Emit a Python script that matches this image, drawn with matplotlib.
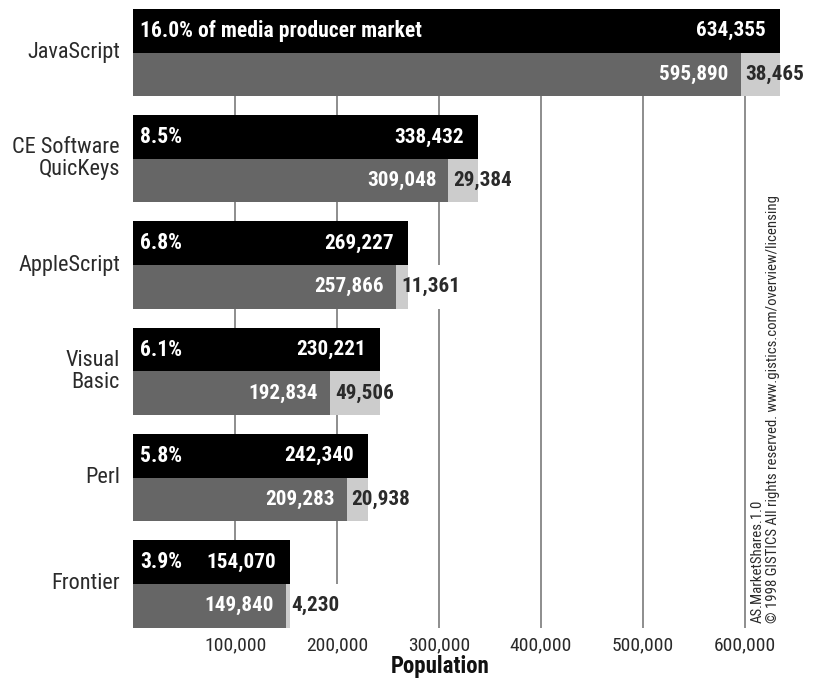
import glob, os
import matplotlib
matplotlib.use("Agg")
import matplotlib.pyplot as plt
from matplotlib import font_manager
from matplotlib.font_manager import FontProperties

# ---- data ----
categories = ["JavaScript", "CE Software\nQuicKeys", "AppleScript", "Visual\nBasic", "Perl", "Frontier"]
share_labels = ["16.0% of media producer market", "8.5%", "6.8%", "6.1%", "5.8%", "3.9%"]
total_labels = [634355, 338432, 269227, 230221, 242340, 154070]
primary = [595890, 309048, 257866, 192834, 209283, 149840]
secondary = [38465, 29384, 11361, 49506, 20938, 4230]
xticks = [100000, 200000, 300000, 400000, 500000, 600000]
xlabel = "Population"
credit = "AS.MarketShares.1.0\n\u00a9 1998 GISTICS All rights reserved. www.gistics.com/overview/licensing"

# ---- fonts: look for a narrow / condensed face ----
all_files = glob.glob("/usr/share/fonts/**/*.tt[fc]", recursive=True) + \
    glob.glob("/usr/local/share/fonts/**/*.tt[fc]", recursive=True) + \
    [f.fname for f in font_manager.fontManager.ttflist]
all_files = list(dict.fromkeys(all_files))


def find(patterns):
    for pat in patterns:
        for f in all_files:
            if os.path.basename(f).lower() == pat.lower():
                return f
    return None


reg_file = find(["LiberationSansNarrow-Regular.ttf", "RobotoCondensed-Regular.ttf",
                 "DejaVuSansCondensed.ttf", "OpenSans_Condensed-Regular.ttf"])
bold_file = find(["LiberationSansNarrow-Bold.ttf", "RobotoCondensed-Bold.ttf",
                  "DejaVuSansCondensed-Bold.ttf", "OpenSans_Condensed-Bold.ttf"])
if reg_file is None:
    for f in all_files:
        b = os.path.basename(f).lower()
        if ("narrow" in b or "condensed" in b) and "bold" not in b and "italic" not in b:
            reg_file = f
            break
if bold_file is None:
    for f in all_files:
        b = os.path.basename(f).lower()
        if ("narrow" in b or "condensed" in b) and "bold" in b and "italic" not in b:
            bold_file = f
            break


def fp(size, bold=False):
    f = bold_file if bold else reg_file
    if f:
        return FontProperties(fname=f, size=size)
    return FontProperties(family="DejaVu Sans", size=size, weight="bold" if bold else "normal",
                          stretch="condensed")


BLACK = "#000000"
DARK = "#666666"
LIGHT = "#cccccc"
GRID = "#7a7a7a"
TXT = "#2a2a2a"

W, H, DPI = 815, 679, 100
fig = plt.figure(figsize=(W / DPI, H / DPI), dpi=DPI)
x0_px, ppx = 133.4, 101.9  # px of zero, px per 100k
bot_px = 627.5
ax = fig.add_axes([x0_px / W, (H - bot_px) / H, (W - x0_px) / W, bot_px / H])
ax.set_xlim(0, (W - x0_px) / ppx * 100000)
bh = 0.41
ax.set_ylim(len(categories) - 1 + bh, -0.494)
for s in ax.spines.values():
    s.set_visible(False)
ax.set_yticks([])
ax.set_xticks(xticks)
ax.set_xticklabels([f"{v:,}" for v in xticks], color=TXT)
for lab in ax.get_xticklabels():
    lab.set_fontproperties(fp(14))
ax.tick_params(axis="x", length=0, pad=6.5)

# grid lines
ax.vlines(xticks, -bh, len(categories) - 1 + bh, color=GRID, lw=1.2, zorder=1)

yb = [i - bh / 2 for i in range(len(categories))]
yg = [i + bh / 2 for i in range(len(categories))]
full = [p + s for p, s in zip(primary, secondary)]

ax.barh(yb, full, height=bh, color=BLACK, zorder=3)
ax.barh(yg, primary, height=bh, color=DARK, zorder=3)
ax.barh(yg, secondary, left=primary, height=bh, color=LIGHT, zorder=3)

px2pt = 72 / DPI
VS = 15.2
light_texts = []
for i, cat in enumerate(categories):
    ax.annotate(share_labels[i], xy=(0, yb[i]), xytext=(7 * px2pt, 0), textcoords="offset points",
                ha="left", va="center", color="white", fontproperties=fp(15.6, True), zorder=5)
    ax.annotate(f"{total_labels[i]:,}", xy=(full[i], yb[i]), xytext=(-14 * px2pt, 0), textcoords="offset points",
                ha="right", va="center", color="white", fontproperties=fp(VS, True), zorder=5)
    ax.annotate(f"{primary[i]:,}", xy=(primary[i], yg[i]), xytext=(-12 * px2pt, 0), textcoords="offset points",
                ha="right", va="center", color="white", fontproperties=fp(VS, True), zorder=5)
    t = ax.annotate(f"{secondary[i]:,}", xy=(primary[i], yg[i]), xytext=(5 * px2pt, 0), textcoords="offset points",
                    ha="left", va="center", color=TXT, fontproperties=fp(VS, True), zorder=5)
    light_texts.append(t)
    ax.annotate(cat, xy=(0, i), xytext=(-13.4 * px2pt, 0), textcoords="offset points",
                ha="right", va="center", color=TXT, fontproperties=fp(16), linespacing=1.05,
                annotation_clip=False)

# white backing behind the light value labels (hides grid lines there)
fig.canvas.draw()
inv = ax.transData.inverted()
for i, t in enumerate(light_texts):
    bb = t.get_window_extent()
    xa = inv.transform((bb.x0 - 2, 0))[0]
    xb = inv.transform((bb.x1 + 2, 0))[0]
    ax.barh(yg[i], xb - xa, left=xa, height=bh, color="white", zorder=2)

fig.text(440 / W, (H - 667) / H, xlabel, ha="center", va="center",
         fontproperties=fp(16.5, True), color="#111111")
fig.text(765 / W, (H - 623) / H, credit, rotation=90, ha="center", va="bottom",
         fontproperties=fp(10.6), color=TXT, multialignment="left", linespacing=1.1)

fig.savefig("out.png", dpi=DPI)
